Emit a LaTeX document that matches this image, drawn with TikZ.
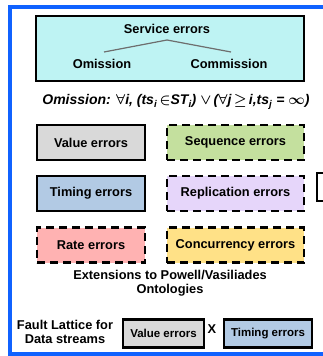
\documentclass[tikz,border=0pt]{standalone}
\usepackage{amsmath}
\usepackage{fontspec}
\setmainfont{Liberation Sans}
\usepackage{tikz}
\usetikzlibrary{positioning}

\definecolor{frameblue}{RGB}{16,98,255}
\definecolor{topcyan}{RGB}{190,243,243}
\definecolor{valgray}{RGB}{217,217,217}
\definecolor{seqgreen}{RGB}{196,224,158}
\definecolor{timblue}{RGB}{178,202,228}
\definecolor{repviolet}{RGB}{230,214,250}
\definecolor{ratepink}{RGB}{255,178,178}
\definecolor{conyellow}{RGB}{255,225,135}
\definecolor{treegray}{RGB}{110,110,110}

\tikzset{
  errbox/.style={draw=black, line width=2.6pt, minimum height=35pt,
    font=\fontsize{12.8}{14}\selectfont\bfseries, inner sep=0pt},
  leftbox/.style={errbox, minimum width=108pt},
  rightbox/.style={errbox, minimum width=137pt, dash pattern=on 8pt off 5pt},
  smallbox/.style={draw=black, line width=2.6pt, minimum height=28pt,
    font=\fontsize{11.5}{13}\selectfont\bfseries, inner sep=2pt},
  label/.style={font=\fontsize{12.8}{14.5}\selectfont\bfseries, inner sep=1pt}
}

\begin{document}
\begin{tikzpicture}[x=1pt,y=-1pt,node distance=1.0cm]
  \useasboundingbox (0,0) rectangle (323,356);
  \draw[frameblue, line width=4pt] (10,7) rectangle (345,354);

  % service errors tree
  \node [draw, line width=2.6pt, fill=topcyan, minimum width=268pt,
    minimum height=65pt] (svc) at (170,48.5) {};
  \node [label] (se) at (167,29) {Service errors};
  \node [label] (om) at (102,64) {Omission};
  \node [label] (cm) at (229,64) {Commission};
  \coordinate (top) at (167,40);
  \draw[treegray, line width=1.2pt] (top) -- (104,52);
  \draw[treegray, line width=1.2pt] (top) -- (231,52);

  \node [font=\fontsize{14}{16}\selectfont\bfseries\itshape\boldmath, inner sep=0pt] (def) at (176,102)
    {Omission: $\forall$\textit{i}, (ts\textsubscript{\textit{i}}\,$\in$ST\textsubscript{\textit{i}}) $\vee$\,($\forall$\textit{j}\,$\geq$\,\textit{i},ts\textsubscript{\textit{j}} = $\infty$)};

  % error categories
  \node [leftbox, fill=valgray] (val) at (91,142.5) {Value errors};
  \node [rightbox, fill=seqgreen] (seq) at (235.5,142.5) {Sequence errors};
  \node [leftbox, fill=timblue] (tim) at (91,193.5) {Timing errors};
  \node [rightbox, fill=repviolet] (rep) at (235.5,193.5) {Replication errors};
  \node [leftbox, fill=ratepink, dash pattern=on 8pt off 5pt] (rate) at (91,245) {Rate errors};
  \node [rightbox, fill=conyellow] (con) at (235.5,245) {Concurrency errors};
  \draw[line width=2.6pt, fill=white] (317,173) rectangle (345,201);

  \node [label, align=center] (ext) at (170,283)
    {Extensions to Powell/Vasiliades\\Ontologies};

  % fault lattice
  \node [label, align=center] (fl) at (65,332) {Fault Lattice for\\Data streams};
  \node [smallbox, fill=valgray, minimum width=81pt] (v2) at (163.5,333.5) {Value errors};
  \node [label] (x) at (212,329) {X};
  \node [smallbox, fill=timblue, minimum width=88pt] (t2) at (268,333.5) {Timing errors};
\end{tikzpicture}
\end{document}
